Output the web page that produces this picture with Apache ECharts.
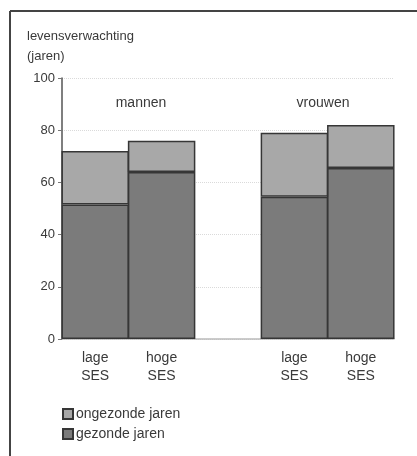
<!DOCTYPE html>
<html>
<head>
<meta charset="utf-8">
<script src="https://cdn.jsdelivr.net/npm/echarts@6/dist/echarts.min.js"></script>
<style>
  html, body { margin: 0; padding: 0; background: #fff; }
  #chart { width: 417px; height: 456px; }
</style>
</head>
<body>
<div id="chart"></div>
<script>
// Levensverwachting naar SES, mannen en vrouwen
const categories = ['lage\nSES', 'hoge\nSES', '', 'lage\nSES', 'hoge\nSES'];
const gezondeJaren = [51.5, 64, '-', 54.5, 65.5];
const totaleJaren = [72, 76, '-', 79, 82];
const ongezondeJaren = totaleJaren.map((t, i) =>
  t === '-' ? '-' : +(t - gezondeJaren[i]).toFixed(1));
const yTicks = { min: 0, max: 100, interval: 20 };
const groepen = ['mannen', 'vrouwen'];

const FONT = '"Liberation Sans", Arial, sans-serif';
const TXT = '#3a3a3a';

const chart = echarts.init(document.getElementById('chart'), null, { renderer: 'canvas' });

chart.setOption({
  animation: false,
  backgroundColor: '#fff',
  textStyle: { fontFamily: FONT, color: TXT },
  grid: { left: 62, right: 23, top: 78, bottom: 117, containLabel: false },
  xAxis: {
    type: 'category',
    data: categories,
    axisLine: { show: true, lineStyle: { color: '#bbb', width: 1.5 } },
    axisTick: { show: false },
    axisLabel: { fontSize: 14, color: TXT, lineHeight: 18, margin: 10, fontFamily: FONT }
  },
  yAxis: {
    type: 'value',
    min: yTicks.min, max: yTicks.max, interval: yTicks.interval,
    axisLine: { show: true, lineStyle: { color: '#555', width: 1.5 } },
    axisTick: { show: true, length: 4, lineStyle: { color: '#777' } },
    axisLabel: { fontSize: 13, color: TXT, margin: 7, fontFamily: FONT },
    splitLine: { show: true, lineStyle: { color: '#dadada', type: 'dotted', width: 1 } }
  },
  legend: {
    orient: 'vertical',
    left: 57, top: 402,
    itemWidth: 10, itemHeight: 10, itemGap: 6,
    icon: 'rect',
    data: ['ongezonde jaren', 'gezonde jaren'],
    textStyle: { fontSize: 14, color: TXT, fontFamily: FONT, padding: [0, 0, 0, -2] }
  },
  series: [
    {
      name: 'gezonde jaren',
      type: 'bar',
      stack: 'totaal',
      data: gezondeJaren,
      barWidth: 67.5,
      itemStyle: { color: '#7b7b7b', borderColor: '#363636', borderWidth: 1.5 }
    },
    {
      name: 'ongezonde jaren',
      type: 'bar',
      stack: 'totaal',
      data: ongezondeJaren,
      barWidth: 67.5,
      itemStyle: { color: '#a8a8a8', borderColor: '#363636', borderWidth: 1.5 }
    }
  ],
  graphic: [
    { type: 'line', shape: { x1: 10, y1: 11, x2: 417, y2: 11 }, style: { stroke: '#444', lineWidth: 2 } },
    { type: 'line', shape: { x1: 10, y1: 11, x2: 10, y2: 456 }, style: { stroke: '#444', lineWidth: 2 } },
    { type: 'text', left: 27, top: 30, style: { text: 'levensverwachting', font: '13px ' + FONT, fill: TXT } },
    { type: 'text', left: 27, top: 50, style: { text: '(jaren)', font: '13px ' + FONT, fill: TXT } },
    { type: 'text', x: 141, y: 103, style: { text: groepen[0], font: '14px ' + FONT, fill: TXT, align: 'center', verticalAlign: 'middle' } },
    { type: 'text', x: 323, y: 103, style: { text: groepen[1], font: '14px ' + FONT, fill: TXT, align: 'center', verticalAlign: 'middle' } }
  ]
});
</script>
</body>
</html>
